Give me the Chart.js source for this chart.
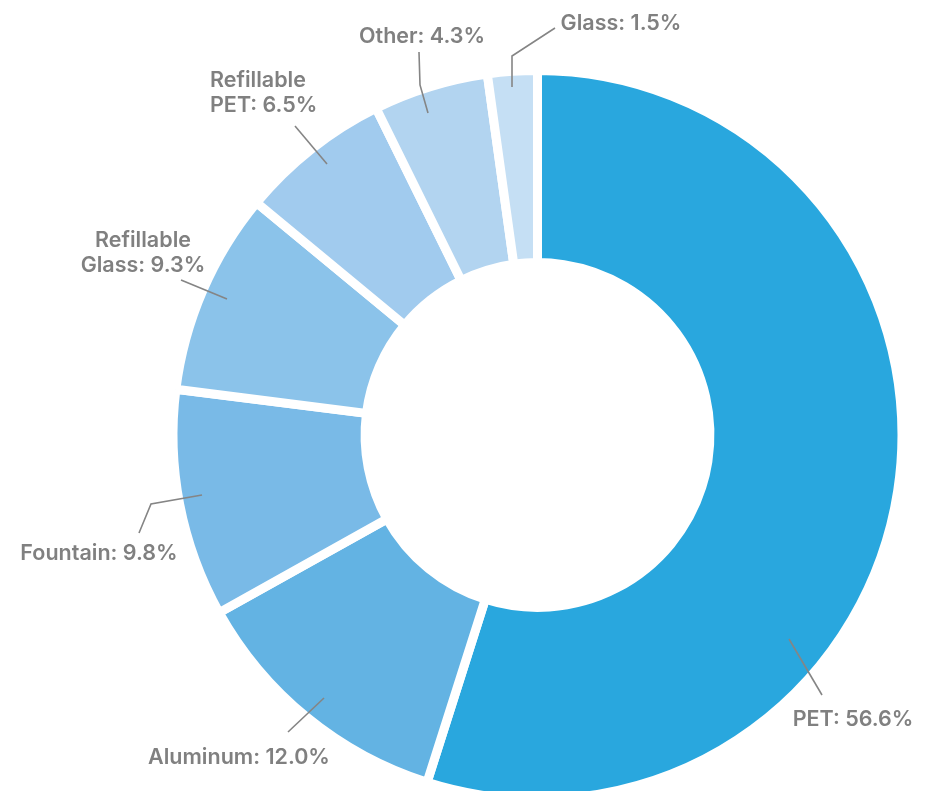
<!DOCTYPE html>
<html>
<head>
<meta charset="utf-8">
<script src="https://cdn.jsdelivr.net/npm/chart.js@4.4.1/dist/chart.umd.min.js"></script>
<style>
    html, body { margin: 0; padding: 0; background: #fff; overflow: hidden; }
    #wrap { position: relative; width: 932px; height: 820px; }
</style>
</head>
<body>
<div id="wrap"><canvas id="packChart"></canvas></div>
<script>
// categories, clockwise from 12 o'clock
const categories = ['PET', 'Aluminum', 'Fountain', 'Refillable Glass', 'Refillable PET', 'Other', 'Glass'];
// values printed on the labels
const labelValues = [56.6, 12.0, 9.8, 9.3, 6.5, 4.3, 1.5];
// slice sizes as drawn in the picture (measured from the slice angles)
const sliceSizes = [54.9, 12.0, 10.1, 9.0, 6.7, 5.1, 2.2];
const sliceColors = ['#29a7de', '#63b3e3', '#79bae7', '#8bc3ea', '#a1cbee', '#b2d4f0', '#c5dff4'];

// label text lines (last line gets the value)
const labelLines = [['PET'], ['Aluminum'], ['Fountain'], ['Refillable', 'Glass'], ['Refillable', 'PET'], ['Other'], ['Glass']];

// leader lines and label anchors, px offsets from the doughnut centre
const leaderPaths = [
    [[251.5, 204], [284.5, 260]],
    [[-213.5, 263], [-249.5, 297]],
    [[-335.5, 60], [-386.5, 69], [-398.5, 98]],
    [[-310.5, -136], [-356.5, -155]],
    [[-210.5, -271], [-242.5, -309]],
    [[-109.5, -322], [-117.5, -350], [-118.5, -383]],
    [[-25.5, -348], [-25.5, -379], [17.5, -407]]
];
const labelAnchors = [
    { x: 315.5, y: 291, align: 'center' },
    { x: -298.5, y: 329, align: 'center' },
    { x: -438.5, y: 125, align: 'center' },
    { x: -394.5, y: -188, align: 'center' },
    { x: -327.5, y: -348, align: 'left' },
    { x: -115.5, y: -392, align: 'center' },
    { x: 83.5, y: -405, align: 'center' }
];

const leaderLabels = {
    id: 'leaderLabels',
    afterDatasetsDraw(chart) {
        const arc = chart.getDatasetMeta(0).data[0];
        if (!arc) return;
        const cx = arc.x, cy = arc.y;
        const ctx = chart.ctx;
        ctx.save();
        ctx.strokeStyle = '#858585';
        ctx.lineWidth = 1.6;
        leaderPaths.forEach((path) => {
            ctx.beginPath();
            path.forEach(([dx, dy], i) => {
                if (i === 0) ctx.moveTo(cx + dx, cy + dy);
                else ctx.lineTo(cx + dx, cy + dy);
            });
            ctx.stroke();
        });
        ctx.fillStyle = '#808080';
        ctx.font = '600 21.5px Inter';
        ctx.textBaseline = 'alphabetic';
        labelLines.forEach((lines, i) => {
            const a = labelAnchors[i];
            ctx.textAlign = a.align;
            lines.forEach((line, j) => {
                let text = line;
                if (j === lines.length - 1) text += ': ' + labelValues[i].toFixed(1) + '%';
                ctx.fillText(text, cx + a.x, cy + a.y + j * 25);
            });
        });
        ctx.restore();
    }
};

const ctx = document.getElementById('packChart').getContext('2d');
new Chart(ctx, {
    type: 'doughnut',
    data: {
        labels: categories,
        datasets: [{
            data: sliceSizes,
            backgroundColor: sliceColors,
            borderColor: '#ffffff',
            borderWidth: 9,
            hoverBorderWidth: 9
        }]
    },
    options: {
        responsive: true,
        maintainAspectRatio: false,
        animation: false,
        cutout: '47.3%',
        layout: {
            padding: { left: 168.5, right: 25.5, top: 66, bottom: 16 }
        },
        plugins: {
            legend: { display: false },
            tooltip: { enabled: false }
        }
    },
    plugins: [leaderLabels]
});
</script>
</body>
</html>
